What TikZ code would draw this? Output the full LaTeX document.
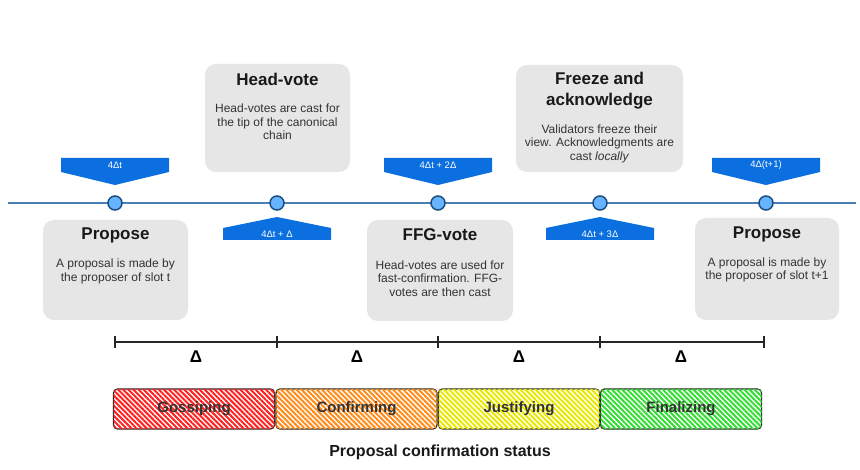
\documentclass[tikz,border=0pt]{standalone}
\usepackage{fontspec}
\setmainfont{Liberation Sans}
\usetikzlibrary{patterns.meta,calc}
\definecolor{flagblue}{HTML}{0B6FE0}
\definecolor{linecol}{HTML}{4A7FB5}
\definecolor{dotfill}{HTML}{66B3FF}
\definecolor{dotdraw}{HTML}{1A4E80}
\definecolor{boxgray}{HTML}{E6E6E6}
\definecolor{txtgray}{HTML}{333333}
\definecolor{stred}{HTML}{FF2020}
\definecolor{storange}{HTML}{FF8C1A}
\definecolor{styellow}{HTML}{E8E800}
\definecolor{stgreen}{HTML}{33DD33}
\tikzset{
  dot/.style={circle,draw=dotdraw,fill=dotfill,line width=1.5pt,minimum size=14pt,inner sep=0pt},
  flag/.style={fill=flagblue,draw=none},
  flagtxt/.style={text=white,font=\fontsize{9.5}{11}\selectfont,inner sep=0pt},
  graybox/.style={fill=boxgray,draw=none,rounded corners=11pt,inner sep=0pt},
  boxtitle/.style={font=\fontsize{17}{21}\selectfont\bfseries,text=black!90,align=center,inner sep=0pt},
  boxbody/.style={font=\fontsize{12}{13.6}\selectfont,text=txtgray,align=center,inner sep=0pt},
  bar/.style={draw=black!85,line width=1.2pt,rounded corners=4pt,minimum width=161pt,minimum height=40pt,inner sep=0pt,fill=white,
    font=\fontsize{15}{18}\selectfont\bfseries,text=txtgray},
  stripes/.style={postaction={pattern={Lines[angle=-45,distance=3.6pt,line width=2pt]},pattern color=#1}},
  delta/.style={font=\fontsize{17}{19}\selectfont\bfseries,inner sep=0pt}
}
\begin{document}
\begin{tikzpicture}[x=1pt,y=-1pt]
\useasboundingbox (0,0) rectangle (860,470);
\fill[white] (0,0) rectangle (860,470);

% gray boxes
\node[graybox,minimum width=145pt,minimum height=100pt] (bp1) at (115.5,270) {};
\node[graybox,minimum width=145pt,minimum height=108pt] (bhv) at (277.5,118) {};
\node[graybox,minimum width=146pt,minimum height=101pt] (bffg) at (440,270.5) {};
\node[graybox,minimum width=167pt,minimum height=107pt] (bfr) at (599.5,118.5) {};
\node[graybox,minimum width=144pt,minimum height=102pt] (bp2) at (767,269) {};

\node[boxtitle] (tp1) at (115.5,235) {Propose};
\node[boxbody] (dp1) at (115.5,271.5) {A proposal is made by\\the proposer of slot t};
\node[boxtitle] (thv) at (277.5,79) {Head-vote};
\node[boxbody] (dhv) at (277.5,122) {Head-votes are cast for\\the tip of the canonical\\chain};
\node[boxtitle] (tffg) at (440,235) {FFG-vote};
\node[boxbody] (dffg) at (440,278.5) {Head-votes are used for\\fast-confirmation. FFG-\\votes are then cast};
\node[boxtitle] (tfr) at (599.5,90.5) {Freeze and\\acknowledge};
\node[boxbody] (dfr) at (599.5,143.5) {Validators freeze their\\view. Acknowledgments are\\cast \textit{locally}};
\node[boxtitle] (tp2) at (767,234) {Propose};
\node[boxbody] (dp2) at (767,270) {A proposal is made by\\the proposer of slot t+1};

% timeline
\coordinate (tl) at (8,203);
\coordinate (tr) at (856,203);
\draw[linecol,line width=1.8pt] (tl) -- (tr);
\node[dot] (c1) at (115,203) {};
\node[dot] (c2) at (277,203) {};
\node[dot] (c3) at (438,203) {};
\node[dot] (c4) at (600,203) {};
\node[dot] (c5) at (766,203) {};

% top flags
\foreach \c in {c1,c3,c5}{
  \fill[flag] ($(\c)+(-54,-45)$) -- ($(\c)+(54,-45)$) -- ($(\c)+(54,-31)$) -- ($(\c)+(0,-18)$) -- ($(\c)+(-54,-31)$) -- cycle;
}
% bottom flags
\foreach \c in {c2,c4}{
  \fill[flag] ($(\c)+(-54,37)$) -- ($(\c)+(54,37)$) -- ($(\c)+(54,25)$) -- ($(\c)+(0,14)$) -- ($(\c)+(-54,25)$) -- cycle;
}
\node[flagtxt] (l1) at ($(c1)+(0,-38)$) {4Δt};
\node[flagtxt] (l3) at ($(c3)+(0,-38)$) {4Δt + 2Δ};
\node[flagtxt] (l5) at ($(c5)+(0,-38)$) {4Δ(t+1)};
\node[flagtxt] (l2) at ($(c2)+(0,31)$) {4Δt + Δ};
\node[flagtxt] (l4) at ($(c4)+(0,31)$) {4Δt + 3Δ};

% scale
\coordinate (s1) at (115,342);
\coordinate (s2) at (277,342);
\coordinate (s3) at (438,342);
\coordinate (s4) at (600,342);
\coordinate (s5) at (764,342);
\draw[black!85,line width=1.5pt] (s1) -- (s5);
\foreach \s in {s1,s2,s3,s4,s5}{
  \draw[black!85,line width=1.3pt] ($(\s)+(0,-6)$) -- ($(\s)+(0,6)$);
}
\node[delta] (d1) at (196,357) {Δ};
\node[delta] (d2) at (357,357) {Δ};
\node[delta] (d3) at (519,357) {Δ};
\node[delta] (d4) at (681,357) {Δ};

% bars
\node[bar,stripes=stred] (g) at (194,409) {Gossiping};
\node[bar,stripes=storange] (cf) at (356.5,409) {Confirming};
\node[bar,stripes=styellow] (j) at (519,409) {Justifying};
\node[bar,stripes=stgreen] (fz) at (681,409) {Finalizing};

\node[font=\fontsize{16}{19}\selectfont\bfseries,text=black!90,inner sep=0pt] (st) at (440,452) {Proposal confirmation status};
\end{tikzpicture}
\end{document}
